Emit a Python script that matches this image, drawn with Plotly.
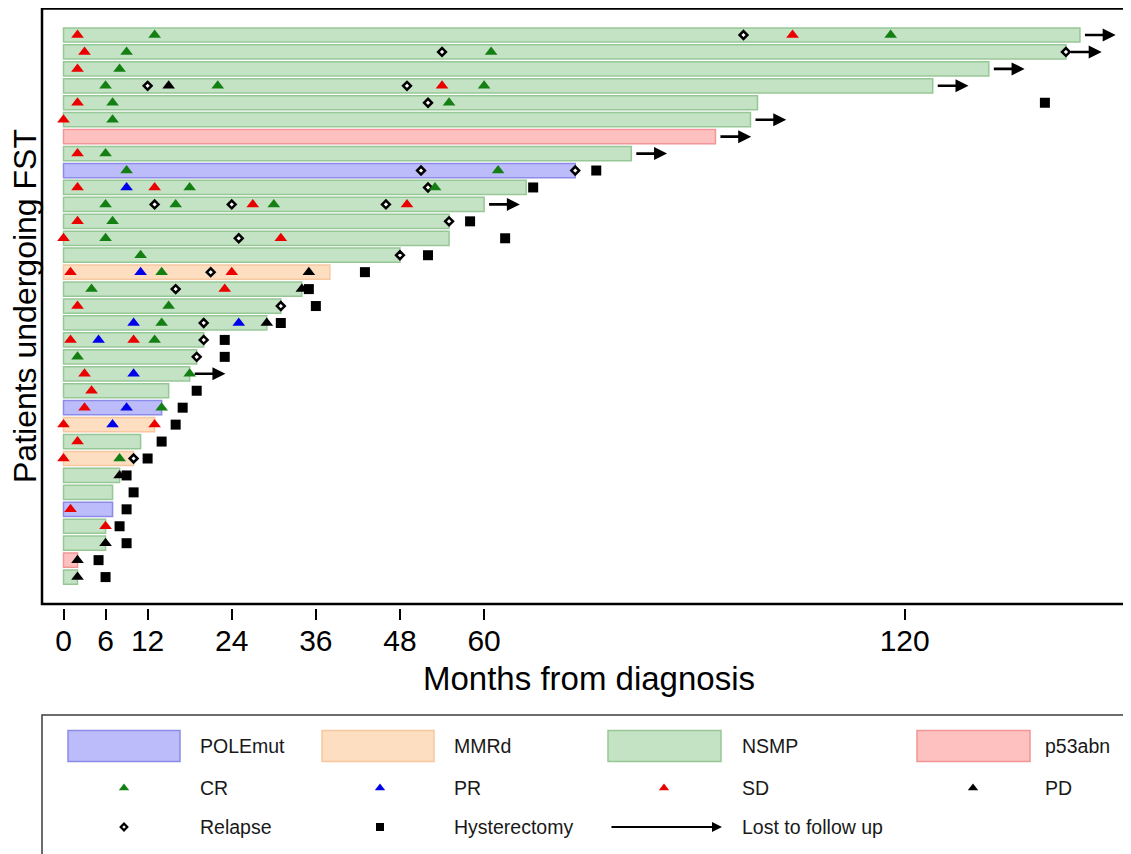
import plotly.graph_objects as go

# ---------------- data (rows listed top to bottom) ----------------
subtype = ["NSMP", "NSMP", "NSMP", "NSMP", "NSMP", "NSMP", "p53abn", "NSMP", "POLEmut",
           "NSMP", "NSMP", "NSMP", "NSMP", "NSMP", "MMRd", "NSMP", "NSMP", "NSMP", "NSMP",
           "NSMP", "NSMP", "NSMP", "POLEmut", "MMRd", "NSMP", "MMRd", "NSMP", "NSMP",
           "POLEmut", "NSMP", "NSMP", "p53abn", "NSMP"]
duration = [145, 143, 132, 124, 99, 98, 93, 81, 73, 66, 60, 55, 55, 48, 38, 34, 31, 29, 20,
            19, 18, 15, 14, 13, 11, 10, 8, 7, 7, 6, 6, 2, 2]
lost_to_follow_up = [1, 1, 1, 1, 0, 1, 1, 1, 0, 0, 1, 0, 0, 0, 0, 0, 0, 0, 0, 0, 1, 0, 0, 0,
                     0, 0, 0, 0, 0, 0, 0, 0, 0]
hysterectomy = [None, None, None, None, 140, None, None, None, 76, 67, None, 58, 63, 52, 43,
                35, 36, 31, 23, 23, None, 19, 17, 16, 14, 12, 9, 10, 9, 8, 9, 5, 6]
cr = [[13, 118], [9, 61], [8], [6, 22, 60], [7, 55], [7], [], [6], [9, 62], [18, 53],
      [6, 16, 30], [7], [6], [11], [14], [4], [15], [14], [13], [2], [18], [], [14], [], [],
      [8], [], [], [], [], [], [], []]
pr = [[], [], [], [], [], [], [], [], [], [9], [], [], [], [], [11], [], [], [10, 25], [5], [],
      [10], [], [9], [7], [], [], [], [], [], [], [], [], []]
sd = [[2, 104], [3], [2], [54], [2], [0], [], [2], [], [2, 13], [27, 49], [2], [0, 31], [],
      [1, 24], [23], [2], [], [1, 10], [], [3], [4], [3], [0, 13], [2], [0], [], [], [1], [6],
      [], [], []]
pd_ = [[], [], [], [15], [], [], [], [], [], [], [], [], [], [], [35], [34], [], [29], [], [],
       [], [], [], [], [], [], [8], [], [], [], [6], [2], [2]]
relapse = [[97], [54, 143], [], [12, 49], [52], [], [], [], [51, 73], [52], [13, 24, 46], [55],
           [25], [48], [21], [16], [31], [20], [20], [19], [], [], [], [], [], [10], [], [], [],
           [], [], [], []]
tick_vals = [0, 6, 12, 24, 36, 48, 60, 120]
tick_text = ["0", "6", "12", "24", "36", "48", "60", "120"]

# ---------------- styles ----------------
OFF = 8                      # page body margin of the html page
W, H = 1131 - OFF, 854 - OFF  # figure size so the page fits the window
FONT = "Liberation Sans, Arial, sans-serif"
bar_style = {
    "POLEmut": ("rgb(188,188,250)", "rgb(140,140,232)"),
    "MMRd": ("rgb(253,222,192)", "rgb(247,200,160)"),
    "NSMP": ("rgb(196,226,196)", "rgb(150,200,150)"),
    "p53abn": ("rgb(255,192,192)", "rgb(240,150,150)"),
}
ev_style = {
    "CR": ("triangle-up", "rgb(20,128,20)"),
    "PR": ("triangle-up", "rgb(0,0,235)"),
    "SD": ("triangle-up", "rgb(235,0,0)"),
    "PD": ("triangle-up", "black"),
}

n = len(duration)
ypos = [n - i for i in range(n)]

fig = go.Figure()

for st in ["POLEmut", "MMRd", "NSMP", "p53abn"]:
    idx = [i for i in range(n) if subtype[i] == st]
    fill, line = bar_style[st]
    fig.add_trace(go.Bar(orientation="h", x=[duration[i] for i in idx], y=[ypos[i] for i in idx],
                         base=0, width=0.84, marker=dict(color=fill, line=dict(color=line, width=1.5)),
                         name=st, showlegend=False))


def flat(ev):
    xs, ys = [], []
    for i, lst in enumerate(ev):
        for v in lst:
            xs.append(v)
            ys.append(ypos[i])
    return xs, ys


xs, ys = flat(relapse)
fig.add_trace(go.Scatter(x=xs, y=ys, mode="markers", showlegend=False, cliponaxis=False,
                         marker=dict(symbol="diamond", size=6, color="white",
                                     line=dict(color="black", width=2.5))))
for name, ev in [("CR", cr), ("PR", pr), ("SD", sd), ("PD", pd_)]:
    xs, ys = flat(ev)
    sym, col = ev_style[name]
    fig.add_trace(go.Scatter(x=xs, y=ys, mode="markers", showlegend=False, cliponaxis=False,
                             marker=dict(symbol=sym, size=11, color=col, line=dict(width=0))))
hx = [h for h in hysterectomy if h is not None]
hy = [ypos[i] for i, h in enumerate(hysterectomy) if h is not None]
fig.add_trace(go.Scatter(x=hx, y=hy, mode="markers", showlegend=False, cliponaxis=False,
                         marker=dict(symbol="square", size=10, color="black")))

annotations = []
for i in range(n):
    if lost_to_follow_up[i]:
        annotations.append(dict(x=duration[i] + 5.1, y=ypos[i], ax=duration[i] + 0.5, ay=ypos[i],
                                xref="x", yref="y", axref="x", ayref="y", text="",
                                showarrow=True, arrowhead=2, arrowsize=1.0, arrowwidth=2.6,
                                arrowcolor="black"))


# ---------------- axes geometry (reference pixel -> paper) ----------------
def pxx(p):
    return min(max((p - OFF) / W, 0), 1)


def pxy(p):
    return min(max(1 - (p - OFF) / H, 0), 1)


x0m = -(63.5 - 42) / 7.01
x1m = (1131 - 63.5) / 7.01
row_px = 16.94
y_top = n + (35 - OFF) / row_px
y_bot = n - (604 - 35) / row_px

LEG_TOP = 690
fig.update_layout(
    width=W, height=H, autosize=False, margin=dict(l=0, r=0, t=0, b=0),
    paper_bgcolor="white", plot_bgcolor="white", barmode="overlay",
    font=dict(family=FONT, color="black"),
    xaxis=dict(domain=[pxx(42), 1], range=[x0m, x1m], anchor="free", position=pxy(608),
               showgrid=False, zeroline=False, showline=False, tickmode="array",
               tickvals=tick_vals, ticktext=tick_text, ticks="outside", ticklen=11,
               tickwidth=1.5, tickcolor="black", tickfont=dict(size=30, family=FONT),
               ticklabelstandoff=-5),
    yaxis=dict(domain=[pxy(604), 1], range=[y_bot, y_top], showgrid=False,
               zeroline=False, showline=False, showticklabels=False, ticks=""),
    xaxis2=dict(domain=[0, 1], range=[OFF, 1131], anchor="y2", visible=False, fixedrange=True),
    yaxis2=dict(domain=[0, pxy(LEG_TOP)], range=[854, LEG_TOP], anchor="x2", visible=False,
                fixedrange=True),
)

shapes = []
# plot frame (left, top, bottom)
shapes.append(dict(type="rect", xref="paper", yref="paper", x0=pxx(42), x1=1.02,
                   y0=pxy(604), y1=1 - 0.5 / H, line=dict(color="black", width=2.5), layer="above"))
# legend box
shapes.append(dict(type="rect", xref="paper", yref="paper", x0=pxx(42), x1=1.02,
                   y0=-0.05, y1=pxy(715), line=dict(color="rgb(60,60,60)", width=1.5)))

annotations.append(dict(text="Months from diagnosis", x=pxx(589), y=pxy(678), xref="paper",
                        yref="paper", showarrow=False, font=dict(size=33, family=FONT),
                        xanchor="center", yanchor="middle"))
annotations.append(dict(text="Patients undergoing FST", x=pxx(25), y=pxy(306), xref="paper",
                        yref="paper", showarrow=False, font=dict(size=32, family=FONT),
                        textangle=-90, xanchor="center", yanchor="middle"))

# ---------------- legend (drawn manually) ----------------
LF = dict(size=19.5, family=FONT, color="rgb(25,25,25)")
row_a, row_b, row_c = 746, 788, 827
rect_cols = [(68, 180, 198, "POLEmut"), (322, 434, 452, "MMRd"),
             (608, 721, 740, "NSMP"), (917, 1030, 1043, "p53abn")]
for xa, xb, xl, lab in rect_cols:
    fill, line = bar_style[lab]
    shapes.append(dict(type="rect", xref="x2", yref="y2", x0=xa, x1=xb, y0=row_a - 15.5,
                       y1=row_a + 15.5, fillcolor=fill, line=dict(color=line, width=1.5)))
    annotations.append(dict(text=lab, x=xl, y=row_a, xref="x2", yref="y2", showarrow=False,
                            xanchor="left", yanchor="middle", font=LF))

mk_cols = [(124, 198, "CR"), (380, 452, "PR"), (664, 740, "SD"), (973, 1043, "PD")]
for xm, xl, lab in mk_cols:
    sym, col = ev_style[lab]
    fig.add_trace(go.Scatter(x=[xm], y=[row_b], xaxis="x2", yaxis="y2", mode="markers",
                             showlegend=False, hoverinfo="skip",
                             marker=dict(symbol=sym, size=9, color=col)))
    annotations.append(dict(text=lab, x=xl, y=row_b, xref="x2", yref="y2", showarrow=False,
                            xanchor="left", yanchor="middle", font=LF))

fig.add_trace(go.Scatter(x=[124], y=[row_c], xaxis="x2", yaxis="y2", mode="markers",
                         showlegend=False, hoverinfo="skip",
                         marker=dict(symbol="diamond", size=5, color="white",
                                     line=dict(color="black", width=2.3))))
annotations.append(dict(text="Relapse", x=198, y=row_c, xref="x2", yref="y2", showarrow=False,
                        xanchor="left", yanchor="middle", font=LF))
fig.add_trace(go.Scatter(x=[380], y=[row_c], xaxis="x2", yaxis="y2", mode="markers",
                         showlegend=False, hoverinfo="skip",
                         marker=dict(symbol="square", size=8, color="black")))
annotations.append(dict(text="Hysterectomy", x=452, y=row_c, xref="x2", yref="y2",
                        showarrow=False, xanchor="left", yanchor="middle", font=LF))
annotations.append(dict(x=722, y=row_c, ax=610, ay=row_c, xref="x2", yref="y2", axref="x2",
                        ayref="y2", text="", showarrow=True, arrowhead=2, arrowsize=1,
                        arrowwidth=2, arrowcolor="black"))
annotations.append(dict(text="Lost to follow up", x=740, y=row_c, xref="x2", yref="y2",
                        showarrow=False, xanchor="left", yanchor="middle", font=LF))

fig.update_layout(shapes=shapes, annotations=annotations)
fig.write_html("out.html")
